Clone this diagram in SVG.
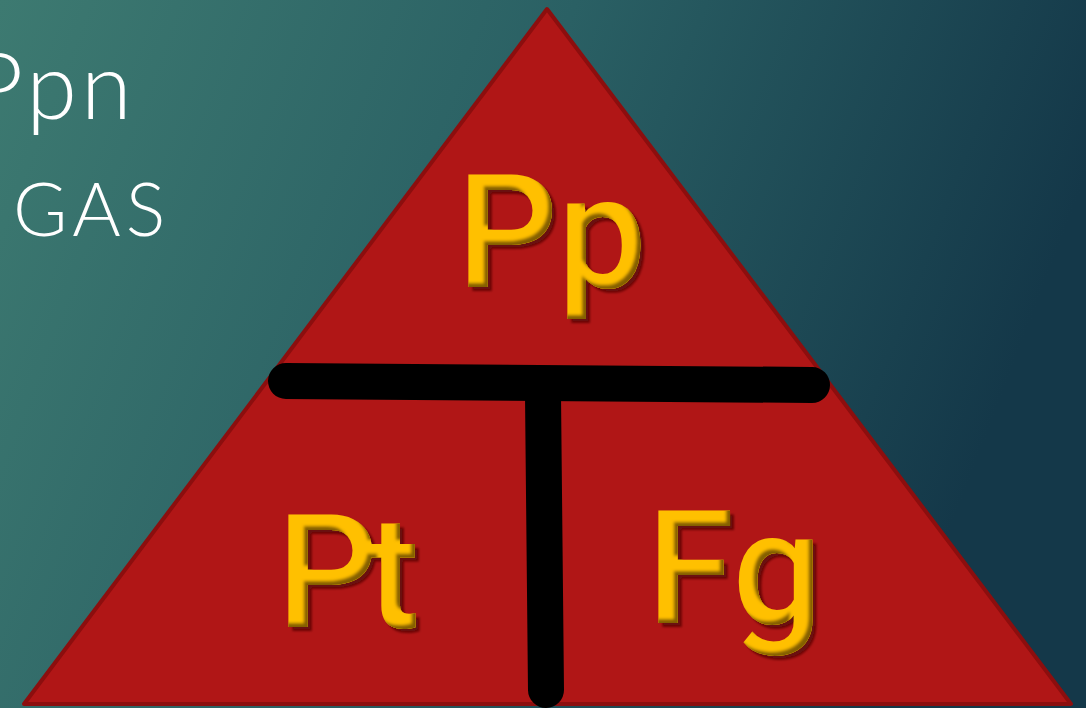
<svg xmlns="http://www.w3.org/2000/svg" width="1086" height="708" viewBox="0 0 1086 708">
<defs>
<linearGradient id="bg" x1="0" y1="0" x2="1" y2="0.25">
<stop offset="0" stop-color="#3D7A71"/>
<stop offset="0.5" stop-color="#2A6064"/>
<stop offset="1" stop-color="#143849"/>
</linearGradient>
<filter id="emb" x="-10%" y="-10%" width="120%" height="130%">
<feComponentTransfer in="SourceAlpha" result="inv"><feFuncA type="table" tableValues="1 0"/></feComponentTransfer>
<feGaussianBlur in="inv" stdDeviation="1.5" result="ib"/>
<feOffset in="ib" dx="-4" dy="-4" result="io"/>
<feFlood flood-color="#6B4A00" flood-opacity="0.9"/>
<feComposite in2="io" operator="in"/>
<feComposite in2="SourceAlpha" operator="in" result="inner"/>
<feGaussianBlur in="SourceAlpha" stdDeviation="1.2" result="sb"/>
<feOffset in="sb" dx="4" dy="4" result="so"/>
<feFlood flood-color="#5E0808" flood-opacity="0.85"/>
<feComposite in2="so" operator="in" result="drop"/>
<feMerge><feMergeNode in="drop"/><feMergeNode in="SourceGraphic"/><feMergeNode in="inner"/></feMerge>
</filter>
</defs>
<style>
.side{font-family:Lato,"Liberation Sans",sans-serif;font-weight:300;fill:#FFFFFF}
.big{font-family:Roboto,"Liberation Sans",sans-serif;font-weight:500;fill:#FFC000;font-size:158px;filter:url(#emb)}
.bar{stroke:#000000;stroke-width:36;stroke-linecap:round;fill:none}
</style>
<rect width="1086" height="708" fill="url(#bg)"/>
<g id="side-text">
<text class="side" x="-30" y="119" font-size="92" letter-spacing="4">Ppn</text>
<text class="side" x="13" y="236" font-size="74" letter-spacing="5">GAS</text>
</g>
<g id="triangle">
<polygon points="547,9 1071,704 24,704" fill="#B01616" stroke="#8C0E0E" stroke-width="4" stroke-linejoin="round"/>
</g>
<g id="connectors">
<line class="bar" x1="286" y1="381" x2="812" y2="385"/>
<line class="bar" x1="543" y1="395" x2="546" y2="690"/>
</g>
<g id="node-pp"><text class="big" x="457" y="287">Pp</text></g>
<g id="node-pt"><text class="big" x="277" y="627" letter-spacing="-12">Pt</text></g>
<g id="node-fg"><text class="big" x="647" y="623">Fg</text></g>
</svg>
